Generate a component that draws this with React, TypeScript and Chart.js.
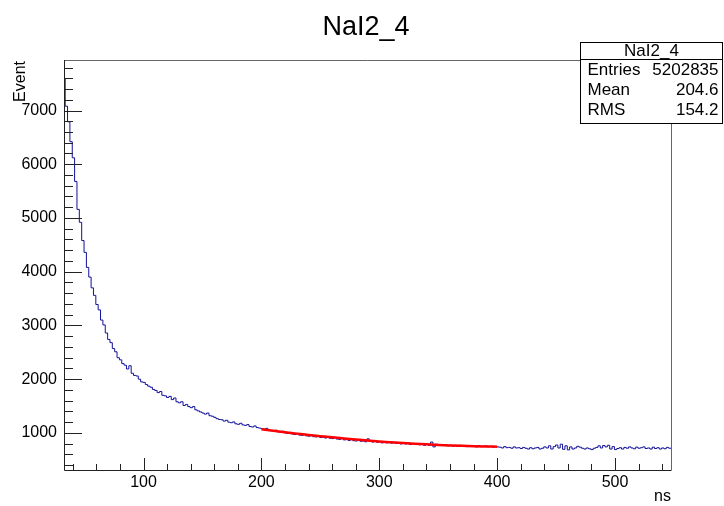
import { useEffect, useRef } from "react";
import { Chart, registerables } from "chart.js";

Chart.register(...registerables);

// Histogram: 2 ns bins starting at 31.5 ns
const binStart = 31.5;
const binWidth = 2;
const counts = [
  7590, 7080, 6790, 6420, 6120, 5680, 5160, 4920, 4580, 4360,
  4080, 3900, 3700, 3560, 3390, 3290, 3100, 3010, 2860, 2740,
  2680, 2570, 2510, 2400, 2360, 2290, 2260, 2190, 2250, 2110,
  2070, 2060, 2000, 1950, 1940,
  1900, 1870, 1850, 1810, 1790, 1750, 1770, 1700, 1690, 1660,
  1680, 1620, 1650, 1580, 1560, 1580, 1510, 1530, 1490, 1470,
  1490, 1430, 1410, 1390, 1370,
  1350, 1370, 1320, 1310, 1290, 1265, 1250, 1245, 1220, 1235,
  1200, 1190, 1205, 1170, 1160, 1180, 1150, 1140, 1155, 1120,
  1110, 1130, 1100, 1090, 1080, 1070, 1085, 1050,
  1040, 1030, 1050, 1020, 1010, 1030, 1000, 990, 1010, 980,
  970, 990, 960, 955, 975, 945, 940, 960, 930, 925,
  945, 915, 920, 905, 930, 900, 895, 915, 885, 880,
  900, 870, 875, 860, 880, 855, 850, 870, 845, 850,
  835, 890, 840, 830, 850, 825, 835, 815, 830, 815,
  830, 810,
  820, 805, 815, 795, 810, 795, 810, 785, 800, 785,
  795, 780, 795, 770, 785, 770, 830, 740, 790, 770,
  780, 765, 780, 760, 770, 755, 770, 750, 770, 755,
  760, 745, 765, 750, 755, 740, 765, 745, 750, 760,
  740, 750, 735, 745, 740,
  735, 720, 745, 725, 730, 715, 740, 720, 725, 710,
  730, 715, 700, 725, 705, 720, 730, 700, 715, 740,
  720, 760, 700, 745, 775, 720, 790, 695, 760, 685,
  740, 700, 720, 750, 735, 715, 700, 720, 705, 690,
  715, 730, 760, 720, 765, 740, 770, 700, 745, 690,
  710, 725, 700, 730, 715, 740, 720, 705, 735, 715,
  725, 740, 710, 720, 700, 735, 710, 725, 700, 720,
  705, 730, 715,
];

// Fit curve (red)
const fitX = [200, 210, 220, 230, 240, 250, 260, 270, 280, 290, 300, 310, 320, 330, 340, 350, 360, 370, 380, 390, 400];
const fitY = [1069, 1040, 1012, 987, 962, 940, 918, 898, 878, 858, 840, 825, 811, 798, 787, 777, 768, 760, 753, 748, 744];

// Axes
const xMin = 32.5;
const xMax = 547.5;
const yMin = 310;
const yMax = 7940;
const xTicks = [100, 200, 300, 400, 500];
const yTicks = [1000, 2000, 3000, 4000, 5000, 6000, 7000];
const xMinorStep = 20;
const yMinorStep = 200;

const title = "NaI2_4";
const xTitle = "ns";
const yTitle = "Event";
const statsRows = [
  ["Entries", "5202835"],
  ["Mean", "204.6"],
  ["RMS", "154.2"],
];

const FONT = "'Liberation Sans', Arial, Helvetica, sans-serif";

export default function App() {
  const ref = useRef<HTMLCanvasElement | null>(null);

  useEffect(() => {
    document.body.style.margin = "0";
    const canvas = ref.current!;
    const histPoints = counts.map((c, i) => ({ x: binStart + i * binWidth, y: c }));
    histPoints.push({ x: binStart + counts.length * binWidth, y: counts[counts.length - 1] });
    const fitPoints = fitX.map((x, i) => ({ x, y: fitY[i] }));

    const rootPlugin = {
      id: "rootStyle",
      afterDraw(chart: any) {
        const ctx = chart.ctx as CanvasRenderingContext2D;
        const a = chart.chartArea;
        const xs = chart.scales.x;
        const ys = chart.scales.y;
        ctx.save();
        // frame
        ctx.lineWidth = 1;
        ctx.strokeStyle = "#666";
        ctx.beginPath();
        ctx.moveTo(a.left, a.top + 0.5);
        ctx.lineTo(a.right + 0.5, a.top + 0.5);
        ctx.lineTo(a.right + 0.5, a.bottom);
        ctx.stroke();
        ctx.strokeStyle = "#222";
        ctx.beginPath();
        ctx.moveTo(a.left + 0.5, a.top);
        ctx.lineTo(a.left + 0.5, a.bottom + 0.5);
        ctx.lineTo(a.right + 0.5, a.bottom + 0.5);
        ctx.stroke();
        // x ticks
        ctx.strokeStyle = "#222";
        ctx.beginPath();
        for (let v = Math.ceil(xMin / xMinorStep) * xMinorStep; v <= xMax; v += xMinorStep) {
          const px = Math.round(xs.getPixelForValue(v)) + 0.5;
          const len = xTicks.includes(v) ? 12 : 6;
          ctx.moveTo(px, a.bottom);
          ctx.lineTo(px, a.bottom - len);
        }
        // y ticks
        for (let v = Math.ceil(yMin / yMinorStep) * yMinorStep; v <= yMax; v += yMinorStep) {
          const py = Math.round(ys.getPixelForValue(v)) + 0.5;
          const len = yTicks.includes(v) ? 18 : 9;
          ctx.moveTo(a.left, py);
          ctx.lineTo(a.left + len, py);
        }
        ctx.stroke();

        // title
        ctx.fillStyle = "#000";
        ctx.textAlign = "center";
        ctx.textBaseline = "middle";
        ctx.font = `27px ${FONT}`;
        ctx.fillText(title, 366, 28);

        // x title
        ctx.font = `16px ${FONT}`;
        ctx.textAlign = "right";
        ctx.fillText(xTitle, a.right, 497);

        // y title
        ctx.save();
        ctx.translate(21, a.top);
        ctx.rotate(-Math.PI / 2);
        ctx.textAlign = "right";
        ctx.textBaseline = "middle";
        ctx.fillText(yTitle, -1, 0);
        ctx.restore();

        // stats box
        const bx = 580.5, by = 42.5, bw = 142, rowH = 20, titleH = 17;
        const bh = titleH + rowH * statsRows.length + 4;
        ctx.fillStyle = "#fff";
        ctx.fillRect(bx, by, bw, bh);
        ctx.strokeStyle = "#000";
        ctx.lineWidth = 1;
        ctx.strokeRect(bx, by, bw, bh);
        ctx.beginPath();
        ctx.moveTo(bx, by + titleH);
        ctx.lineTo(bx + bw, by + titleH);
        ctx.stroke();
        ctx.fillStyle = "#000";
        ctx.font = `17px ${FONT}`;
        ctx.textAlign = "center";
        ctx.textBaseline = "middle";
        ctx.fillText(title, bx + bw / 2, by + titleH / 2 + 0.5);
        statsRows.forEach((r, i) => {
          const y = by + titleH + rowH * i + rowH / 2 + 1;
          ctx.textAlign = "left";
          ctx.fillText(r[0], bx + 7, y);
          ctx.textAlign = "right";
          ctx.fillText(r[1], bx + bw - 4, y);
        });
        ctx.restore();
      },
    };

    const chart = new Chart(canvas, {
      type: "line",
      data: {
        datasets: [
          {
            data: histPoints,
            borderColor: "#10109a",
            borderWidth: 1,
            stepped: true,
            pointRadius: 0,
            fill: false,
            order: 1,
          },
          {
            data: fitPoints,
            borderColor: "#ff0000",
            borderWidth: 2.5,
            pointRadius: 0,
            fill: false,
            cubicInterpolationMode: "monotone",
            order: 0,
          },
        ],
      },
      options: {
        animation: false,
        responsive: false,
        layout: { padding: { top: 60, right: 53, left: 0, bottom: 0 } },
        plugins: {
          legend: { display: false },
          tooltip: { enabled: false },
          title: { display: false },
        },
        scales: {
          x: {
            type: "linear",
            min: xMin,
            max: xMax,
            grid: { display: false, drawTicks: false },
            border: { display: false },
            afterFit: (s: any) => {
              s.height = 36;
            },
            afterBuildTicks: (s: any) => {
              s.ticks = xTicks.map((v) => ({ value: v }));
            },
            ticks: {
              color: "#000",
              font: { family: FONT, size: 16 },
              padding: 3,
              maxRotation: 0,
              autoSkip: false,
              callback: (v: any) => String(v),
            },
          },
          y: {
            type: "linear",
            min: yMin,
            max: yMax,
            grid: { display: false, drawTicks: false },
            border: { display: false },
            afterFit: (s: any) => {
              s.width = 64;
            },
            afterBuildTicks: (s: any) => {
              s.ticks = yTicks.map((v) => ({ value: v }));
            },
            ticks: {
              color: "#000",
              font: { family: FONT, size: 16 },
              padding: 7,
              autoSkip: false,
              callback: (v: any) => String(v),
            },
          },
        },
      },
      plugins: [rootPlugin],
    });
    return () => chart.destroy();
  }, []);

  return <canvas ref={ref} width={724} height={506} style={{ display: "block" }} />;
}
